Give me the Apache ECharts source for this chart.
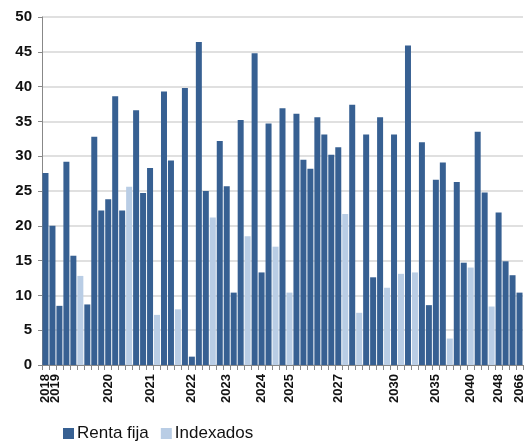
<!DOCTYPE html>
<html>
<head>
<meta charset="utf-8">
<script src="https://cdn.jsdelivr.net/npm/echarts@6/dist/echarts.min.js"></script>
<style>
  html, body { margin: 0; padding: 0; background: #fff; }
  #chart { width: 526px; height: 441px; }
</style>
</head>
<body>
<div id="chart"></div>
<script>
var tickLabels = [
    '2018', '2019', '', '', '', '', '', '', '', '2020',
    '', '', '', '', '', '2021', '', '', '', '',
    '', '2022', '', '', '', '', '2023', '', '', '',
    '', '2024', '', '', '', '2025', '', '', '', '',
    '', '', '2027', '', '', '', '', '', '', '',
    '2030', '', '', '', '', '', '2035', '', '', '',
    '', '2040', '', '', '', '2048', '', '', '2066'
];

var rentaFija = [
    27.6, 20.0, 8.5, 29.2, 15.7, null, 8.7, 32.8, 22.2, 23.8,
    38.6, 22.2, null, 36.6, 24.7, 28.3, null, 39.3, 29.4, null,
    39.8, 1.2, 46.4, 25.0, null, 32.2, 25.7, 10.4, 35.2, null,
    44.8, 13.3, 34.7, null, 36.9, null, 36.1, 29.5, 28.2, 35.6,
    33.1, 30.2, 31.3, null, 37.4, null, 33.1, 12.6, 35.6, null,
    33.1, null, 45.9, null, 32.0, 8.6, 26.6, 29.1, null, 26.3,
    14.7, null, 33.5, 24.8, null, 21.9, 14.9, 12.9, 10.4
];

var indexados = [
    null, null, null, null, null, 12.8, null, null, null, null,
    null, null, 25.6, null, null, null, 7.2, null, null, 8.0,
    null, null, null, null, 21.2, null, null, null, null, 18.5,
    null, null, null, 17.0, null, 10.4, null, null, null, null,
    null, null, null, 21.7, null, 7.5, null, null, null, 11.1,
    null, 13.1, null, 13.3, null, null, null, null, 3.8, null,
    null, 14.0, null, null, 8.4, null, null, null, null
];

var chart = echarts.init(document.getElementById('chart'));

// unique ids per bar, the shown text comes from tickLabels
var categories = tickLabels.map(function (t, i) {
    return 'c' + i;
});

var option = {
    animation: false,
    textStyle: { fontFamily: 'Liberation Sans, Arial, sans-serif' },
    grid: { left: 42, right: 1, top: 17, bottom: 76 },
    legend: {
        left: 58,
        top: 420,
        itemWidth: 11,
        itemHeight: 11,
        itemGap: 12,
        icon: 'rect',
        textStyle: { fontSize: 17, color: '#111', padding: [0, 0, 0, -2] },
        data: ['Renta fija', 'Indexados']
    },
    xAxis: {
        type: 'category',
        data: categories,
        axisLine: { lineStyle: { color: '#888', width: 1 } },
        axisTick: { show: true, interval: 0, length: 5, lineStyle: { color: '#888' } },
        axisLabel: {
            interval: 0,
            rotate: 90,
            margin: 9,
            fontSize: 13,
            fontWeight: 'bold',
            color: '#111',
            formatter: function (v, i) {
                // 2019 sits a little to the right in the original
                return i === 1 ? '{shift|' + tickLabels[i] + '}' : tickLabels[i];
            },
            rich: {
                shift: { fontSize: 13, fontWeight: 'bold', color: '#111', padding: [5, 0, 0, 0] }
            }
        }
    },
    yAxis: {
        type: 'value',
        min: 0,
        max: 50,
        interval: 5,
        axisLine: { show: true, lineStyle: { color: '#888', width: 1 } },
        axisTick: { show: true, length: 4, lineStyle: { color: '#888' } },
        axisLabel: { fontSize: 15, fontWeight: 'bold', color: '#111', margin: 10 },
        splitLine: { lineStyle: { color: '#D6D6D6', width: 1.5 } }
    },
    series: [
        {
            name: 'Renta fija',
            type: 'bar',
            stack: 'total',
            barCategoryGap: '14%',
            itemStyle: { color: '#376092' },
            data: rentaFija
        },
        {
            name: 'Indexados',
            type: 'bar',
            stack: 'total',
            barCategoryGap: '14%',
            itemStyle: { color: '#B9CDE5' },
            data: indexados
        }
    ]
};

chart.setOption(option);
</script>
</body>
</html>
